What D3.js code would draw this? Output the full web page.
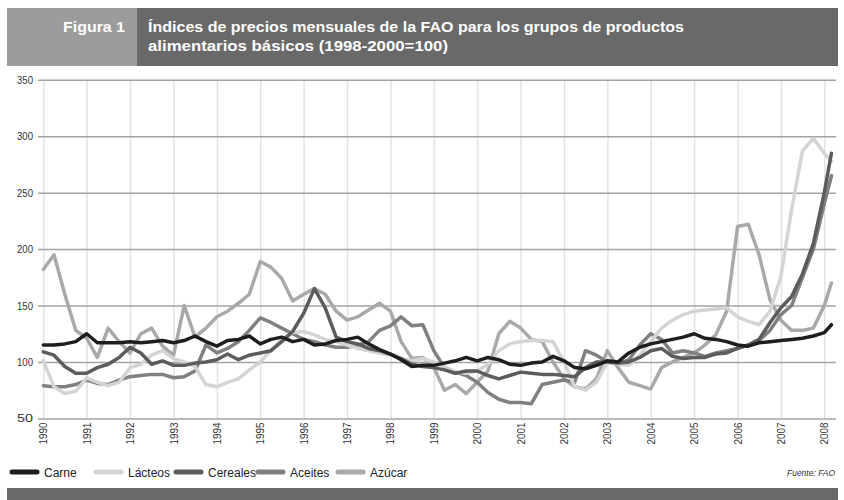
<!DOCTYPE html>
<html>
<head>
<meta charset="utf-8">
<script src="https://cdn.jsdelivr.net/npm/d3@7"></script>
<style>
  body { margin: 0; background: #fff; }
  svg { display: block; font-family: "Liberation Sans", Arial, sans-serif; }
</style>
</head>
<body>
<svg id="chart" width="844" height="500"></svg>
<script>
// quarterly readings, Jan/Apr/Jul/Oct 1990 .. Jan 2008, plus Mar 2008
const years = ["1990", "1991", "1992", "1993", "1994", "1995", "1996", "1997", "1998", "1999",
               "2000", "2001", "2002", "2003", "2004", "2005", "2006", "2007", "2008"];
const yTicks = [50, 100, 150, 200, 250, 300, 350];

const carne = [
    115, 115, 116, 118,  125, 117, 117, 117,  118, 117, 118, 119,  117, 119, 123, 118,
    114, 119, 120, 123,  116, 120, 122, 118,  120, 115, 116, 119,  120, 122, 116, 111,
    107, 102, 96, 97,    97, 99, 101, 104,    101, 104, 102, 98,   97, 99, 100, 105,
    101, 95, 94, 97,     101, 100, 108, 113,  116, 118, 120, 122,  125, 121, 120, 118,
    115, 114, 117, 118,  119, 120, 121, 123,  126, 133];
const lacteos = [
    101, 78, 72, 74,     86, 82, 79, 82,      95, 98, 106, 110,    103, 100, 96, 80,
    78, 82, 85, 93,      100, 110, 120, 126,  127, 124, 120, 118,  115, 112, 110, 108,
    106, 103, 101, 103,  100, 96, 91, 90,     92, 98, 110, 116,    118, 119, 119, 118,
    100, 78, 75, 82,     100, 98, 97, 106,    118, 130, 137, 142,  145, 146, 147, 148,
    140, 136, 133, 145,  176, 235, 287, 298,  285, 278];
const cereales = [
    109, 106, 96, 90,    90, 95, 98, 104,     113, 108, 98, 101,   97, 97, 99, 100,
    102, 107, 102, 106,  108, 110, 118, 127,  143, 165, 148, 122,  118, 116, 112, 110,
    107, 103, 98, 96,    95, 93, 90, 92,      92, 88, 85, 88,      91, 90, 89, 89,
    88, 87, 95, 100,     100, 99, 100, 104,   110, 112, 105, 103,  104, 104, 107, 108,
    112, 115, 120, 135,  148, 158, 178, 205,  250, 285];
const aceites = [
    79, 78, 78, 80,      84, 81, 80, 84,      87, 88, 89, 89,      86, 87, 92, 115,
    108, 112, 118, 128,  139, 135, 130, 125,  120, 118, 115, 113,  113, 115, 118, 128,
    132, 140, 132, 133,  110, 95, 91, 88,     82, 73, 67, 64,      64, 63, 80, 82,
    84, 82, 110, 106,    100, 98, 102, 115,   125, 120, 108, 110,  108, 105, 108, 110,
    112, 115, 119, 128,  142, 150, 175, 200,  240, 265];
const azucar = [
    182, 195, 160, 128,  121, 104, 130, 118,  108, 125, 130, 114,  106, 150, 122, 130,
    140, 145, 152, 160,  189, 184, 174, 154,  160, 165, 160, 145,  137, 140, 146, 152,
    145, 118, 103, 104,  95, 75, 80, 72,      82, 92, 125, 136,    130, 120, 118, 100,
    85, 78, 76, 85,      110, 95, 82, 79,     76, 95, 100, 104,    108, 115, 124, 145,
    220, 222, 195, 155,  137, 128, 128, 130,  150, 170];

const seriesNames = ["Carne", "Lácteos", "Cereales", "Aceites", "Azúcar"];
const seriesValues = [carne, lacteos, cereales, aceites, azucar];
const seriesColors = ["#1e1e1e", "#d4d4d4", "#5c5c5c", "#808080", "#a9a9a9"];

const periods = d3.timeMonth.range(new Date(1990, 0, 1), new Date(2008, 1, 1), 3)
    .concat([new Date(2008, 2, 1)]);

const svg = d3.select("#chart");

// header band
svg.append("rect").attr("x", 7).attr("y", 8).attr("width", 831).attr("height", 58).attr("fill", "#696969");
svg.append("rect").attr("x", 7).attr("y", 8).attr("width", 130).attr("height", 58).attr("fill", "#9c9c9c");
svg.append("text").attr("x", 125).attr("y", 32).attr("text-anchor", "end")
    .attr("fill", "#fff").attr("font-weight", "bold").attr("font-size", 15)
    .attr("textLength", 62).attr("lengthAdjust", "spacingAndGlyphs")
    .text("Figura 1");
const titleLines = ["Índices de precios mensuales de la FAO para los grupos de productos",
                    "alimentarios básicos (1998-2000=100)"];
const titleWidths = [536, 300];
svg.selectAll(".title").data(titleLines).enter().append("text")
    .attr("x", 148).attr("y", (d, i) => 32 + i * 19)
    .attr("fill", "#fff").attr("font-weight", "bold").attr("font-size", 15)
    .attr("textLength", (d, i) => titleWidths[i]).attr("lengthAdjust", "spacingAndGlyphs")
    .text(d => d);

// scales
const x = d3.scaleTime().domain([new Date(1990, 0, 1), new Date(2008, 0, 1)]).range([43.3, 824.3]);
const y = d3.scaleLinear().domain([50, 350]).range([418.4, 79.8]);

// vertical grid + year labels
const xAxis = svg.append("g").attr("transform", "translate(0," + y(50) + ")")
    .call(d3.axisBottom(x)
        .tickValues(years.map(s => new Date(+s, 0, 1)))
        .tickFormat(d3.timeFormat("%Y"))
        .tickSize(-(y(50) - y(350))));
xAxis.select(".domain").remove();
xAxis.selectAll("line").attr("stroke", "#e3e3e3").attr("stroke-width", 1.5);
xAxis.selectAll("text")
    .attr("transform", "rotate(-90)")
    .attr("text-anchor", "end").attr("x", -4).attr("y", 0).attr("dy", "0.35em")
    .attr("font-size", 10).attr("fill", "#333")
    .attr("textLength", 22).attr("lengthAdjust", "spacingAndGlyphs");

// horizontal grid + value labels
const yAxis = svg.append("g").attr("transform", "translate(38,0)")
    .call(d3.axisLeft(y).tickValues(yTicks).tickSize(-(836 - 38)).tickPadding(5));
yAxis.select(".domain").remove();
yAxis.selectAll("line").attr("stroke", "#a3a3a3").attr("stroke-width", 1.5);
yAxis.selectAll("text").attr("font-size", 11).attr("fill", "#333")
    .attr("textLength", 16).attr("lengthAdjust", "spacingAndGlyphs");
svg.selectAll(".tick").attr("font-family", null);

// series lines
const line = d3.line()
    .x((d, i) => x(periods[i]))
    .y(d => y(d));
const drawOrder = [4, 3, 1, 2, 0];
svg.selectAll(".series").data(drawOrder).enter().append("path")
    .attr("d", k => line(seriesValues[k]))
    .attr("fill", "none")
    .attr("stroke", k => seriesColors[k])
    .attr("stroke-width", 3.5)
    .attr("stroke-linejoin", "round")
    .attr("stroke-linecap", "round");

// legend
const legendX = [12, 96, 176, 258, 338];
const legend = svg.selectAll(".legend").data(seriesNames).enter().append("g")
    .attr("transform", (d, i) => "translate(" + legendX[i] + ",472)");
legend.append("line").attr("x1", 0).attr("x2", 25).attr("y1", 0).attr("y2", 0)
    .attr("stroke", (d, i) => seriesColors[i]).attr("stroke-width", 5).attr("stroke-linecap", "round");
legend.append("text").attr("x", 32).attr("y", 4.5).attr("font-size", 12).attr("fill", "#222")
    .text(d => d);

svg.append("text").attr("x", 835).attr("y", 476).attr("text-anchor", "end")
    .attr("font-size", 8.5).attr("font-style", "italic").attr("fill", "#333")
    .text("Fuente: FAO");

// bottom band
svg.append("rect").attr("x", 7).attr("y", 488).attr("width", 831).attr("height", 12).attr("fill", "#696969");
</script>
</body>
</html>
